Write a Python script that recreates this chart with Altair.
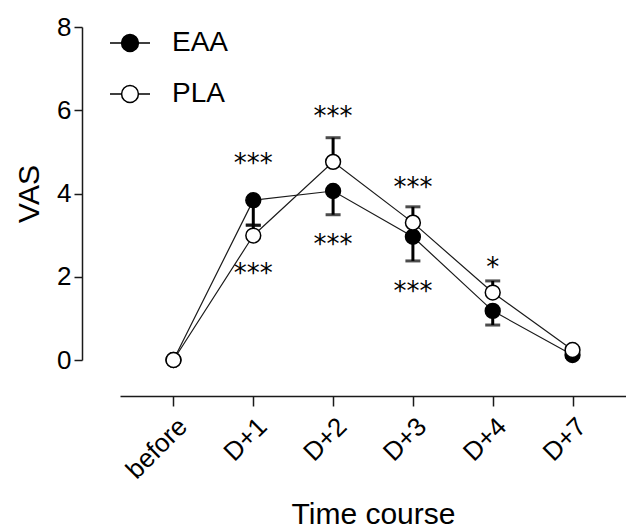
import altair as alt
import pandas as pd

days = ["before", "D+1", "D+2", "D+3", "D+4", "D+7"]
groups = ["EAA", "PLA"]
eaa_mean = [0.0, 3.84, 4.06, 2.96, 1.18, 0.12]
eaa_se = [0.0, 0.60, 0.57, 0.58, 0.34, 0.05]
pla_mean = [0.0, 2.99, 4.76, 3.30, 1.62, 0.24]
pla_se = [0.0, 0.25, 0.58, 0.38, 0.28, 0.05]

star_day = ["D+1", "D+1", "D+2", "D+2", "D+3", "D+3", "D+4"]
star_text = ["***", "***", "***", "***", "***", "***", "*"]
star_y = [4.85, 2.21, 5.97, 2.91, 4.28, 1.78, 2.35]

rows = []
for g, m, s, sign in [("EAA", eaa_mean, eaa_se, -1), ("PLA", pla_mean, pla_se, 1)]:
    for d, mv, sv in zip(days, m, s):
        rows.append({"day": d, "group": g, "mean": mv, "bound": mv + sign * sv})
df = pd.DataFrame(rows)
stars = pd.DataFrame({"day": star_day, "label": star_text, "y": star_y})

FONT = "Liberation Sans"
INK = "#1a1a1a"

x_enc = alt.X(
    "day:O",
    sort=days,
    scale=alt.Scale(type="point", domain=days, padding=0.67),
    title="Time course",
    axis=alt.Axis(
        offset=36, tickSize=10, tickWidth=1.5, domainWidth=1.5,
        domainColor=INK, tickColor=INK, labelAngle=-45,
        labelAlign="right", labelBaseline="middle", labelOffset=9,
        labelFont=FONT, labelFontSize=26, labelColor="black", labelPadding=16,
        titleFont=FONT, titleFontSize=30, titleFontWeight="normal",
        titleColor="black", titlePadding=16, grid=False,
    ),
)

y_axis = alt.Axis(
    values=[0, 2, 4, 6, 8], format="d", offset=38, tickSize=8, tickWidth=1.5,
    domainWidth=1.5, domainColor=INK, tickColor=INK,
    labelFont=FONT, labelFontSize=26, labelColor="black", labelPadding=3,
    titleFont=FONT, titleFontSize=30, titleFontWeight="normal",
    titleColor="black", titlePadding=12, grid=False,
)
y_scale = alt.Scale(domain=[0, 8], nice=False, zero=False)

base = alt.Chart(df)

lines = base.mark_line(color=INK, strokeWidth=1.2).encode(
    x=x_enc,
    y=alt.Y("mean:Q", scale=y_scale, axis=y_axis, title="VAS"),
    detail="group:N",
)

bars = base.mark_rule(color="black", strokeWidth=3).encode(
    x=x_enc,
    y=alt.Y("mean:Q", scale=y_scale, axis=y_axis, title="VAS"),
    y2="bound:Q",
)

caps = base.mark_tick(color="black", thickness=3, size=15).encode(
    x=x_enc,
    y=alt.Y("bound:Q", scale=y_scale, axis=y_axis, title="VAS"),
)

legend_symbol = (
    "M-1,0L-0.42,0M0.42,0L1,0"
    "M0.42,0A0.42,0.42,0,1,1,-0.42,0A0.42,0.42,0,1,1,0.42,0Z"
)

points = base.mark_point(
    shape="circle", size=220, filled=True, stroke="black", strokeWidth=1.5, opacity=1
).encode(
    x=x_enc,
    y=alt.Y("mean:Q", scale=y_scale, axis=y_axis, title="VAS"),
    fill=alt.Fill(
        "group:N",
        scale=alt.Scale(domain=groups, range=["black", "white"]),
        legend=alt.Legend(
            title=None, orient="none", legendX=-11, legendY=-5,
            symbolType=legend_symbol, symbolSize=1600,
            symbolStrokeColor="black", symbolStrokeWidth=1.5,
            labelFont=FONT, labelFontSize=28, labelColor="black",
            labelOffset=21, rowPadding=16, padding=0,
        ),
    ),
)

star_layer = alt.Chart(stars).mark_text(
    font="DejaVu Sans", fontSize=26, baseline="alphabetic", dy=14, color="black"
).encode(
    x=x_enc,
    y=alt.Y("y:Q", scale=y_scale, axis=y_axis, title="VAS"),
    text="label:N",
)

chart = (
    alt.layer(lines, bars, caps, points, star_layer)
    .properties(
        width=506,
        height=333,
        autosize=alt.AutoSizeParams(type="none"),
        padding={"left": 112, "top": 19, "right": 0, "bottom": 172},
        background="white",
    )
    .configure_view(stroke=None)
)

chart.save("out.html", embed_options={"renderer": "svg", "actions": False})
